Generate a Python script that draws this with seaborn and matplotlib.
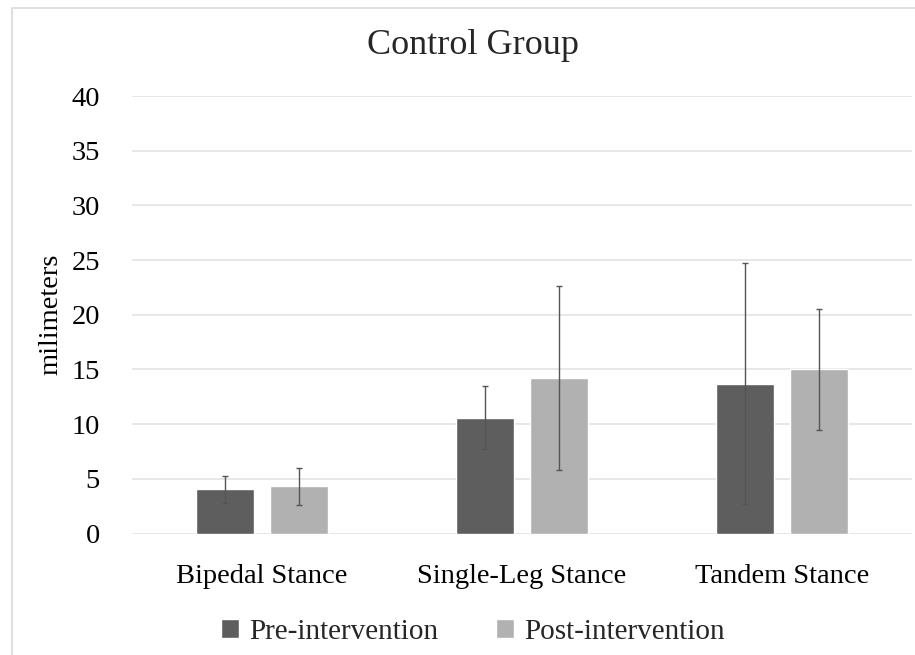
import matplotlib
matplotlib.use("Agg")
import matplotlib.pyplot as plt
import seaborn as sns
import pandas as pd
from matplotlib.patches import Rectangle, Patch

categories = ["Bipedal Stance", "Single-Leg Stance", "Tandem Stance"]
series = ["Pre-intervention", "Post-intervention"]
pre_values = [4.05, 10.6, 13.7]
post_values = [4.3, 14.2, 15.0]
pre_errors = [1.25, 2.87, 11.0]
post_errors = [1.66, 8.42, 5.5]
y_ticks = [0, 5, 10, 15, 20, 25, 30, 35, 40]

colors = ["#5e5e5e", "#b1b1b1"]

df = pd.DataFrame({
    "category": categories * 2,
    "series": [series[0]] * 3 + [series[1]] * 3,
    "value": pre_values + post_values,
    "err": pre_errors + post_errors,
})

sns.set_theme(style="white")
plt.rcParams["font.family"] = ["Liberation Serif", "DejaVu Serif"]

fs = 20.5

fig = plt.figure(figsize=(9.15, 6.55), dpi=100)
ax = fig.add_axes([132 / 915, 121.5 / 655, 780 / 915, 437.5 / 655])

sns.barplot(data=df, x="category", y="value", hue="series", order=categories,
            hue_order=series, palette=colors, width=0.569, gap=0.215,
            errorbar=None, ax=ax, legend=False, saturation=1)

for s_idx, s in enumerate(series):
    sub = df[df["series"] == s].set_index("category").loc[categories]
    cont = ax.containers[s_idx]
    xs = [b.get_x() + b.get_width() / 2 for b in cont]
    ax.errorbar(xs, sub["value"].values, yerr=sub["err"].values, fmt="none",
                ecolor="#555555", elinewidth=1.0, capsize=2.5, capthick=1.0, zorder=5)

ax.set_ylim(0, 40)
ax.set_xlim(-0.5, 2.5)
ax.set_yticks(y_ticks)
ax.yaxis.grid(True, color="#e3e3e3", linewidth=1.2)
ax.set_axisbelow(True)
for sp in ax.spines.values():
    sp.set_visible(False)
ax.tick_params(axis="both", length=0, labelsize=fs, colors="black")
ax.tick_params(axis="y", pad=23)
ax.tick_params(axis="x", pad=22)
ax.set_xlabel("")
ax.set_ylabel("milimeters", fontsize=fs, color="black", labelpad=6)

fig.text(0.517, 1 - 45 / 655, "Control Group", ha="center", va="center", fontsize=26)

handles = [Patch(facecolor=colors[0]), Patch(facecolor=colors[1])]
fig.legend(handles, series, loc="center", bbox_to_anchor=(0.517, 1 - 632 / 655),
           ncol=2, frameon=False, fontsize=21, handlelength=0.6, handleheight=0.6,
           handletextpad=0.35, columnspacing=2.0)

fig.patches.append(Rectangle((12 / 915, -0.1), 1.2, 1 - 8 / 655 + 0.1,
                             transform=fig.transFigure, fill=False,
                             edgecolor="#d9d9d9", linewidth=1.2))

fig.savefig("out.png", dpi=100, facecolor="white")
